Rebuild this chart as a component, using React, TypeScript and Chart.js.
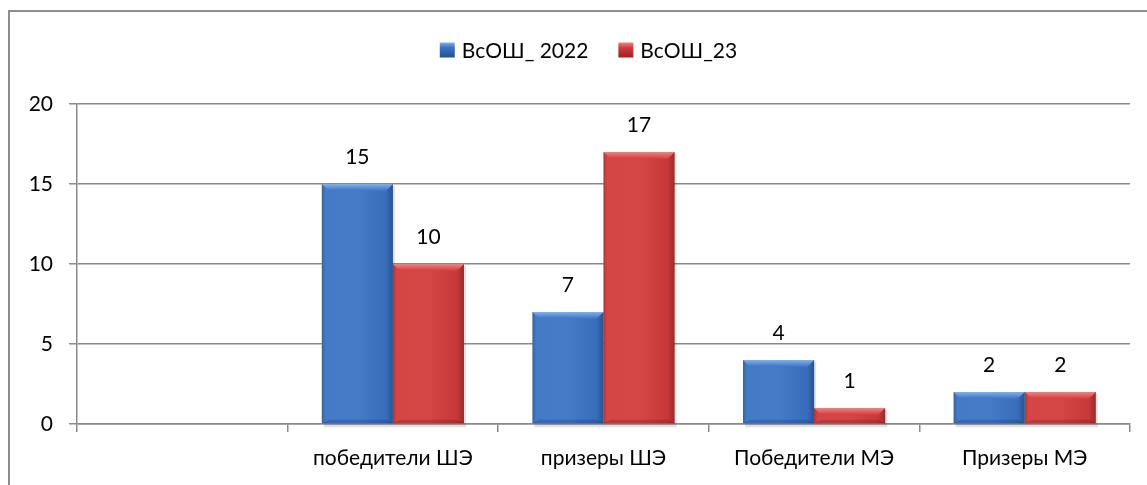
import React, { useEffect, useRef } from "react";
import { Chart, registerables } from "chart.js";

Chart.register(...registerables);

const categories = ["", "победители ШЭ", "призеры ШЭ", "Победители МЭ", "Призеры МЭ"];
const series2022 = [null, 15, 7, 4, 2];
const series23 = [null, 10, 17, 1, 2];
const seriesNames = ["ВсОШ_ 2022", "ВсОШ_23"];
const yMin = 0;
const yMax = 20;
const yStep = 5;

const FONT = "Lato";
const FSIZE = 21;

const palette = [
  { base: "#3a73c4", light: "#7fb0ee", dark: "#24508f" },
  { base: "#d23c3c", light: "#f48080", dark: "#982222" },
];

const barStylePlugin = {
  id: "barStyle",
  beforeDatasetsDraw(chart: any) {
    const ctx = chart.ctx;
    ctx.save();
    chart.data.datasets.forEach((ds: any, di: number) => {
      const meta = chart.getDatasetMeta(di);
      meta.data.forEach((el: any, i: number) => {
        if (ds.data[i] == null) return;
        const left = el.x - el.width / 2;
        ctx.fillStyle = "rgba(0,0,0,0.12)";
        ctx.fillRect(left + 2, el.y + 2, el.width, el.base - el.y + 2);
      });
    });
    ctx.restore();
  },
  afterDatasetsDraw(chart: any) {
    const ctx = chart.ctx;
    ctx.save();
    chart.data.datasets.forEach((ds: any, di: number) => {
      const meta = chart.getDatasetMeta(di);
      const pal = palette[di];
      meta.data.forEach((el: any, i: number) => {
        if (ds.data[i] == null) return;
        const left = el.x - el.width / 2;
        const right = left + el.width;
        const top = el.y;
        const bottom = el.base;
        const h = bottom - top;
        const g = ctx.createLinearGradient(left, 0, right, 0);
        g.addColorStop(0, "rgba(0,0,0,0.18)");
        g.addColorStop(0.08, "rgba(255,255,255,0.05)");
        g.addColorStop(0.5, "rgba(255,255,255,0.06)");
        g.addColorStop(0.9, "rgba(0,0,0,0.05)");
        g.addColorStop(1, "rgba(0,0,0,0.28)");
        ctx.fillStyle = g;
        ctx.fillRect(left, top, el.width, h);
        const bev = Math.min(7, h / 2);
        ctx.beginPath();
        ctx.moveTo(left, top);
        ctx.lineTo(right, top);
        ctx.lineTo(right - bev, top + bev);
        ctx.lineTo(left + bev, top + bev);
        ctx.closePath();
        const gb = ctx.createLinearGradient(0, top, 0, top + bev);
        gb.addColorStop(0, pal.light);
        gb.addColorStop(1, pal.base);
        ctx.fillStyle = gb;
        ctx.fill();
        ctx.beginPath();
        ctx.moveTo(left, bottom);
        ctx.lineTo(right, bottom);
        ctx.lineTo(right - bev, bottom - bev / 2);
        ctx.lineTo(left + bev, bottom - bev / 2);
        ctx.closePath();
        ctx.fillStyle = "rgba(0,0,0,0.15)";
        ctx.fill();
        ctx.fillStyle = "#000";
        ctx.font = `${FSIZE}px ${FONT}`;
        ctx.textAlign = "center";
        ctx.textBaseline = "middle";
        ctx.fillText(String(ds.data[i]), el.x, top - 27);
      });
    });
    ctx.restore();
  },
};

const legendPlugin = {
  id: "customLegend",
  afterDraw(chart: any) {
    const ctx = chart.ctx;
    ctx.save();
    ctx.font = `${FSIZE}px ${FONT}`;
    const box = 15;
    const gapBoxText = 7;
    const gapItems = 30;
    const widths = chart.data.datasets.map((d: any) => ctx.measureText(d.label).width);
    const total =
      widths.reduce((a: number, w: number) => a + box + gapBoxText + w, 0) + gapItems * (widths.length - 1);
    let x = chart.width / 2 - total / 2 + 15;
    const cy = 50;
    chart.data.datasets.forEach((d: any, i: number) => {
      const pal = palette[i];
      const g = ctx.createLinearGradient(0, cy - box / 2, 0, cy + box / 2);
      g.addColorStop(0, pal.light);
      g.addColorStop(0.35, pal.base);
      g.addColorStop(1, pal.dark);
      ctx.fillStyle = g;
      ctx.fillRect(x, cy - box / 2, box, box);
      ctx.fillStyle = "#000";
      ctx.textAlign = "left";
      ctx.textBaseline = "middle";
      ctx.fillText(d.label, x + box + gapBoxText, cy + 1);
      x += box + gapBoxText + widths[i] + gapItems;
    });
    ctx.restore();
  },
};

export default function App() {
  const ref = useRef<HTMLCanvasElement | null>(null);
  useEffect(() => {
    if (!ref.current) return;
    Chart.defaults.font.family = FONT;
    Chart.defaults.font.size = FSIZE;
    Chart.defaults.color = "#000";
    const chart = new Chart(ref.current, {
      type: "bar",
      data: {
        labels: categories,
        datasets: [
          { label: seriesNames[0], data: series2022, backgroundColor: palette[0].base },
          { label: seriesNames[1], data: series23, backgroundColor: palette[1].base },
        ],
      },
      options: {
        responsive: false,
        animation: false,
        layout: { padding: { left: 0, right: 17, top: 104, bottom: 0 } },
        plugins: { legend: { display: false }, tooltip: { enabled: false } },
        datasets: { bar: { categoryPercentage: 0.675, barPercentage: 1 } },
        scales: {
          x: {
            grid: {
              offset: true,
              drawOnChartArea: false,
              drawTicks: true,
              tickLength: 8,
              color: "#8a8a8a",
              lineWidth: 1.5,
            },
            border: { color: "#8a8a8a", width: 1.5 },
            ticks: { padding: 14, font: { size: FSIZE, family: FONT }, maxRotation: 0, autoSkip: false },
            afterFit: (s: any) => {
              s.height = 61;
            },
          },
          y: {
            min: yMin,
            max: yMax,
            ticks: { stepSize: yStep, padding: 16, font: { size: FSIZE, family: FONT } },
            grid: { color: "#8a8a8a", lineWidth: 1.5, tickLength: 8 },
            border: { color: "#8a8a8a", width: 1.5 },
            afterFit: (s: any) => {
              s.width = 77;
            },
          },
        },
      },
      plugins: [barStylePlugin, legendPlugin],
    });
    return () => chart.destroy();
  }, []);
  return (
    <div style={{ position: "absolute", left: 0, top: 0, width: 1147, height: 485, overflow: "hidden", background: "#fff" }}>
      <div
        style={{
          position: "absolute",
          left: 8,
          top: 10,
          width: 1200,
          height: 600,
          border: "2px solid #8d8d8d",
        }}
      />
      <canvas ref={ref} width={1147} height={485} style={{ position: "absolute", left: 0, top: 0 }} />
    </div>
  );
}
